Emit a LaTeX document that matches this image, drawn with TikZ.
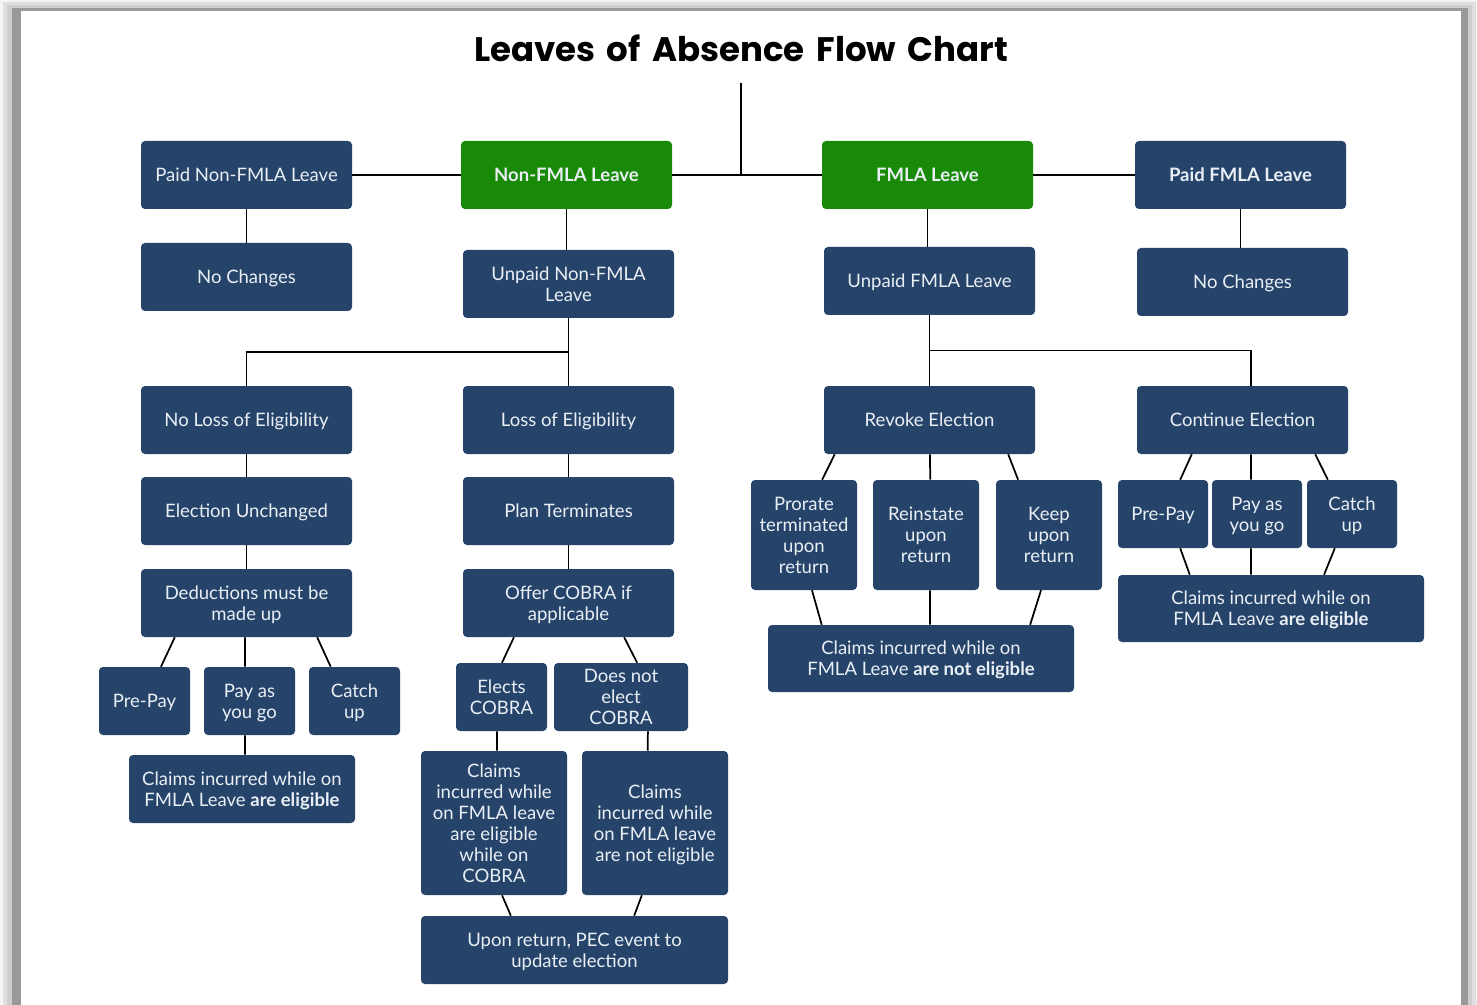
\documentclass[tikz,border=0pt]{standalone}
\usepackage{fontspec}
\setmainfont{Lato}
\newfontfamily\titlefont{Poppins}[WordSpace=1.6]
\usetikzlibrary{calc}
\definecolor{boxblue}{HTML}{26446A}
\definecolor{boxgreen}{HTML}{188A08}
\definecolor{boxtext}{HTML}{E9EFF5}
\newcommand\bx[7][boxblue]{%
  \node[box, fill=#1, minimum width={(#5-#3)*0.75pt}, minimum height={(#6-#4)*0.75pt}]
    (#2) at ({(#3+#5)/2},{(#4+#6)/2}) {#7};}
\newcommand\lnk[4]{\draw[conn] ($(#1.south west)!#2!(#1.south east)$) -- ($(#3.north west)!#4!(#3.north east)$);}
\begin{document}
\begin{tikzpicture}[x=0.75pt,y=-0.75pt,
  box/.style={rounded corners=3pt, inner sep=0pt, text=boxtext, align=center,
    font=\fontsize{13.9}{15.8}\selectfont, text depth=0pt},
  conn/.style={line width=1.3pt, black}]
\useasboundingbox (0,0) rectangle (1477,1005);
% frame
\fill[gray!8] (0,0) rectangle (1477,1005);
\fill[gray!25] (3,2) rectangle (1476,1005);
\fill[gray!38] (7,5) rectangle (1472,1005);
\fill[gray!50!white!80!black] (12,8) rectangle (1468,1005);
\fill[white] (21,11) rectangle (1461,1005);
% title
\node[font=\titlefont\bfseries\fontsize{25.5}{28}\selectfont] (title) at (741,48) {Leaves of Absence Flow Chart};
\coordinate (top) at (741,83);
% row 1
\bx{pnf}{141}{141}{352}{209}{Paid Non-FMLA Leave}
\bx[boxgreen]{nf}{461}{141}{672}{209}{\bfseries Non-FMLA Leave}
\bx[boxgreen]{fm}{822}{141}{1033}{209}{\bfseries FMLA Leave}
\bx{pf}{1135}{141}{1346}{209}{\bfseries Paid FMLA Leave}
% row 2
\bx{nc1}{141}{243}{352}{311}{No Changes}
\bx{unf}{463}{250}{674}{318}{Unpaid Non-FMLA\\Leave}
\bx{ufm}{824}{247}{1035}{315}{Unpaid FMLA Leave}
\bx{nc2}{1137}{248}{1348}{316}{No Changes}
% row 3
\bx{nl}{141}{386}{352}{454}{No Loss of Eligibility}
\bx{lo}{463}{386}{674}{454}{Loss of Eligibility}
\bx{rev}{824}{386}{1035}{454}{Revoke Election}
\bx{ce}{1137}{386}{1348}{454}{Continue Election}
% left column
\bx{eu}{141}{477}{352}{545}{Election Unchanged}
\bx{ded}{141}{569}{352}{637}{Deductions must be\\made up}
\bx{pp1}{99}{667}{190}{735}{Pre-Pay}
\bx{pg1}{204}{667}{295}{735}{Pay as\\you go}
\bx{cu1}{309}{667}{400}{735}{Catch\\up}
\bx{cl1}{129}{755}{355}{823}{Claims incurred while on\\FMLA Leave \textbf{are eligible}}
% middle column
\bx{pt}{463}{477}{674}{545}{Plan Terminates}
\bx{oc}{463}{569}{674}{637}{Offer COBRA if\\applicable}
\bx{ec}{456}{663}{547}{731}{Elects\\COBRA}
\bx{dn}{554}{663}{688}{731}{Does not\\elect\\COBRA}
\bx{ca}{421}{751}{567}{895}{Claims\\incurred while\\on FMLA leave\\are eligible\\while on\\COBRA}
\bx{cb}{582}{751}{728}{895}{Claims\\incurred while\\on FMLA leave\\are not eligible}
\bx{up}{421}{916}{728}{984}{Upon return, PEC event to\\update election}
% revoke children
\bx{pr}{751}{480}{857}{590}{Prorate\\terminated\\upon\\return}
\bx{ri}{873}{480}{979}{590}{Reinstate\\upon\\return}
\bx{kp}{996}{480}{1102}{590}{Keep\\upon\\return}
\bx{cl2}{768}{625}{1074}{692}{Claims incurred while on\\FMLA Leave \textbf{are not eligible}}
% continue children
\bx{pp2}{1118}{480}{1208}{548}{Pre-Pay}
\bx{pg2}{1212}{480}{1302}{548}{Pay as\\you go}
\bx{cu2}{1307}{480}{1397}{548}{Catch\\up}
\bx{cl3}{1118}{575}{1424}{642}{Claims incurred while on\\FMLA Leave \textbf{are eligible}}
% connectors top
\draw[conn] (pnf.east) -- (nf.west);
\draw[conn] (nf.east) -- (fm.west);
\draw[conn] (fm.east) -- (pf.west);
\draw[conn] (top) -- (top |- nf.east);
\draw[conn] (pnf.south) -- (nc1.north);
\draw[conn] (nf.south) -- (nf.south |- unf.north);
\draw[conn] (fm.south) -- (fm.south |- ufm.north);
\draw[conn] (pf.south) -- (pf.south |- nc2.north);
% branches
\draw[conn] (unf.south) -- (lo.north);
\coordinate (jl) at ($(unf.south)!0.5!(lo.north)$);
\draw[conn] (jl) -| (nl.north);
\draw[conn] (ufm.south) -- (ufm.south |- rev.north);
\coordinate (jr) at ($(ufm.south)!0.5!(ufm.south |- rev.north)$);
\coordinate (cetop) at ($(ce.north west)!0.54!(ce.north east)$);
\draw[conn] (jr) -| (cetop);
% left column
\draw[conn] (nl.south) -- (eu.north);
\draw[conn] (eu.south) -- (ded.north);
\lnk{ded}{0.161}{pp1}{0.68}
\lnk{ded}{0.493}{pg1}{0.45}
\lnk{ded}{0.834}{cu1}{0.24}
\lnk{pg1}{0.45}{cl1}{0.513}
% middle
\draw[conn] (lo.south) -- (pt.north);
\draw[conn] (pt.south) -- (oc.north);
\lnk{oc}{0.242}{ec}{0.505}
\lnk{oc}{0.763}{dn}{0.62}
\lnk{ec}{0.45}{ca}{0.52}
\lnk{dn}{0.70}{cb}{0.45}
\lnk{ca}{0.555}{up}{0.293}
\lnk{cb}{0.41}{up}{0.694}
% revoke
\lnk{rev}{0.052}{pr}{0.67}
\lnk{rev}{0.502}{ri}{0.54}
\lnk{rev}{0.872}{kp}{0.21}
\lnk{pr}{0.575}{cl2}{0.176}
\lnk{ri}{0.538}{cl2}{0.529}
\lnk{kp}{0.425}{cl2}{0.856}
% continue
\lnk{ce}{0.26}{pp2}{0.69}
\lnk{ce}{0.54}{pg2}{0.433}
\lnk{ce}{0.844}{cu2}{0.233}
\lnk{pp2}{0.69}{cl3}{0.235}
\lnk{pg2}{0.433}{cl3}{0.435}
\lnk{cu2}{0.31}{cl3}{0.673}
\end{tikzpicture}
\end{document}
